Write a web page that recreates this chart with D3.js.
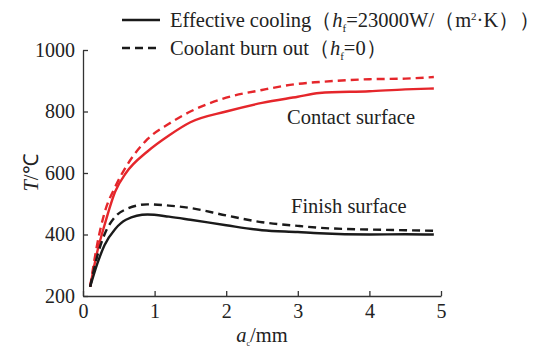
<!DOCTYPE html>
<html>
<head>
<meta charset="utf-8">
<script src="https://cdn.jsdelivr.net/npm/d3@7"></script>
<style>
  body { margin: 0; background: #fff; }
</style>
</head>
<body>
<svg id="chart" width="548" height="348"></svg>
<script>
// depth a (mm) and temperature T (°C)
const depth = [0.1, 0.2, 0.3, 0.45, 0.6, 0.9, 1.2, 1.5, 2, 2.5, 3, 3.3, 4, 4.5, 4.9]
const contactCooling = [230, 345, 430, 540, 600, 670, 722, 765, 800, 828, 848, 860, 866, 872, 875]
const contactBurnout = [230, 370, 470, 555, 620, 710, 760, 800, 845, 870, 890, 896, 905, 907, 912]
const finishCooling = [230, 305, 365, 418, 448, 465, 458, 448, 430, 414, 408, 404, 400, 401, 400]
const finishBurnout = [230, 330, 400, 458, 482, 498, 494, 486, 462, 440, 428, 422, 416, 414, 412]

const xTicks = [0, 1, 2, 3, 4, 5]
const yTicks = [200, 400, 600, 800, 1000]

const font = "'Liberation Serif'"
const svg = d3.select("#chart")

const margin = { left: 83, right: 107, top: 50, bottom: 52 }
const width = 548
const height = 348

const x = d3.scaleLinear()
  .domain([0, 5])
  .range([margin.left, width - margin.right])

const y = d3.scaleLinear()
  .domain([200, 1000])
  .range([height - margin.bottom, margin.top])

const axisColor = "#333"
const textColor = "#222"

// x axis, ticks point inward
svg.append("g")
  .attr("transform", `translate(0,${height - margin.bottom})`)
  .call(d3.axisBottom(x).tickValues(xTicks).tickFormat(d3.format("d"))
    .tickSize(-5).tickSizeOuter(0).tickPadding(7))
  .call(g => g.select(".domain").attr("stroke", axisColor).attr("stroke-width", 1.3))
  .call(g => g.selectAll(".tick line").attr("stroke", axisColor).attr("stroke-width", 1.3))
  .call(g => g.selectAll(".tick text")
    .style("font-family", font).style("font-size", "20px")
    .attr("fill", textColor).attr("dy", "0.75em"))

svg.append("g")
  .attr("transform", `translate(${margin.left},0)`)
  .call(d3.axisLeft(y).tickValues(yTicks).tickFormat(d3.format("d"))
    .tickSize(-5).tickSizeOuter(0).tickPadding(8))
  .call(g => g.select(".domain").attr("stroke", axisColor).attr("stroke-width", 1.3))
  .call(g => g.selectAll(".tick line").attr("stroke", axisColor).attr("stroke-width", 1.3))
  .call(g => g.selectAll(".tick text")
    .style("font-family", font).style("font-size", "20px")
    .attr("fill", textColor))

// axis titles
const xt = svg.append("text")
  .attr("x", x(2.5))
  .attr("y", 342)
  .attr("text-anchor", "middle")
  .style("font-family", font).style("font-size", "20.5px")
  .attr("fill", textColor)
xt.append("tspan").attr("font-style", "italic").text("a")
xt.append("tspan").style("font-size", "8px").attr("dy", 4).text("c")
xt.append("tspan").attr("dy", -4).text("/mm")

svg.append("text")
  .attr("transform", `translate(38,${y(600)}) rotate(-90)`)
  .attr("text-anchor", "middle")
  .style("font-family", font).style("font-size", "20.5px")
  .attr("fill", textColor)
  .call(t => t.append("tspan").attr("font-style", "italic").text("T"))
  .call(t => t.append("tspan").text("/℃"))

// curves
const red = "#e5262b"
const black = "#1a1a1a"
const series = [
  { values: contactBurnout, color: red, dash: "8,5" },
  { values: contactCooling, color: red, dash: null },
  { values: finishBurnout, color: black, dash: "8,5" },
  { values: finishCooling, color: black, dash: null }
]

const line = d3.line()
  .x(d => x(d[0]))
  .y(d => y(d[1]))
  .curve(d3.curveMonotoneX)

svg.append("g")
  .selectAll("path")
  .data(series)
  .join("path")
  .attr("fill", "none")
  .attr("stroke", d => d.color)
  .attr("stroke-width", 2.4)
  .attr("stroke-dasharray", d => d.dash)
  .attr("d", d => line(depth.map((a, i) => [a, d.values[i]])))

// annotations
svg.append("text")
  .attr("x", 287).attr("y", 124)
  .style("font-family", font).style("font-size", "20.5px")
  .attr("fill", textColor)
  .text("Contact surface")

svg.append("text")
  .attr("x", 291).attr("y", 213)
  .style("font-family", font).style("font-size", "20.5px")
  .attr("fill", textColor)
  .text("Finish surface")

// legend
const legend = svg.append("g")
const rows = [
  { dash: null, y: 20, label: ["Effective cooling（", "h", "f", "=23000W/（m", "2", "·K））"] },
  { dash: "8,5", y: 48, label: ["Coolant burn out（", "h", "f", "=0）"] }
]

rows.forEach(r => {
  legend.append("line")
    .attr("x1", 122).attr("x2", 160)
    .attr("y1", r.y).attr("y2", r.y)
    .attr("stroke", black)
    .attr("stroke-width", 2.4)
    .attr("stroke-dasharray", r.dash)

  const t = legend.append("text")
    .attr("x", 170).attr("y", r.y + 7)
    .style("font-family", font).style("font-size", "20.5px")
    .attr("fill", textColor)
  t.append("tspan").text(r.label[0])
  t.append("tspan").attr("font-style", "italic").text(r.label[1])
  t.append("tspan").style("font-size", "11px").attr("dy", 5).text(r.label[2])
  t.append("tspan").attr("dy", -5).text(r.label[3])
  if (r.label.length > 4) {
    t.append("tspan").style("font-size", "11px").attr("dy", -7).text(r.label[4])
    t.append("tspan").attr("dy", 7).text(r.label[5])
  }
})
</script>
</body>
</html>
